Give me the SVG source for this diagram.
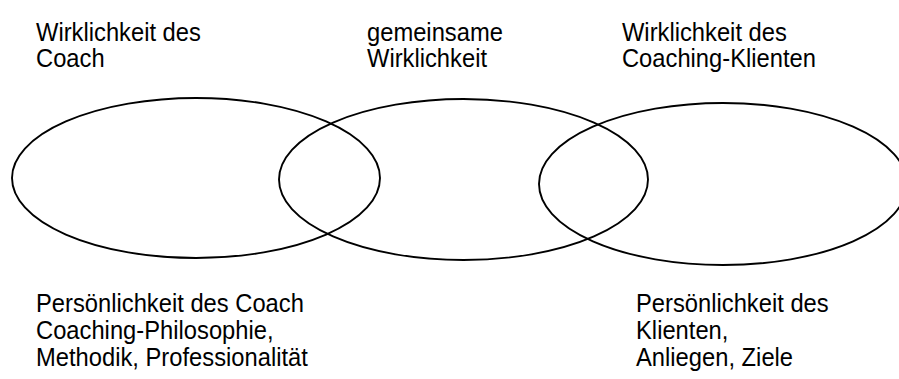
<svg xmlns="http://www.w3.org/2000/svg" width="899" height="379" viewBox="0 0 899 379">
<style>
.e{fill:none;stroke:#000;stroke-width:1.9}
.t{font-family:"Liberation Sans",Arial,sans-serif;font-size:25px;fill:#000}
</style>
<rect width="899" height="379" fill="#fff"/>
<g id="ellipse-coach"><ellipse class="e" cx="196" cy="178" rx="184" ry="80"/></g>
<g id="ellipse-common"><ellipse class="e" cx="463.5" cy="179.5" rx="184.5" ry="80.5"/></g>
<g id="ellipse-client"><ellipse class="e" cx="723" cy="184" rx="184" ry="81"/></g>
<g id="label-coach-reality" transform="scale(0.95,1)"><text class="t" x="37.9" y="41">Wirklichkeit des</text><text class="t" x="37.9" y="67">Coach</text></g>
<g id="label-common" transform="scale(0.95,1)"><text class="t" x="386.3" y="41">gemeinsame</text><text class="t" x="386.3" y="67">Wirklichkeit</text></g>
<g id="label-client-reality" transform="scale(0.95,1)"><text class="t" x="654.7" y="41">Wirklichkeit des</text><text class="t" x="654.7" y="67">Coaching-Klienten</text></g>
<g id="label-coach-personality" transform="scale(0.95,1)"><text class="t" x="37.9" y="312">Persönlichkeit des Coach</text><text class="t" x="37.9" y="339">Coaching-Philosophie,</text><text class="t" x="37.9" y="366">Methodik, Professionalität</text></g>
<g id="label-client-personality" transform="scale(0.95,1)"><text class="t" x="669.5" y="312">Persönlichkeit des</text><text class="t" x="669.5" y="339">Klienten,</text><text class="t" x="669.5" y="366">Anliegen, Ziele</text></g>
</svg>
